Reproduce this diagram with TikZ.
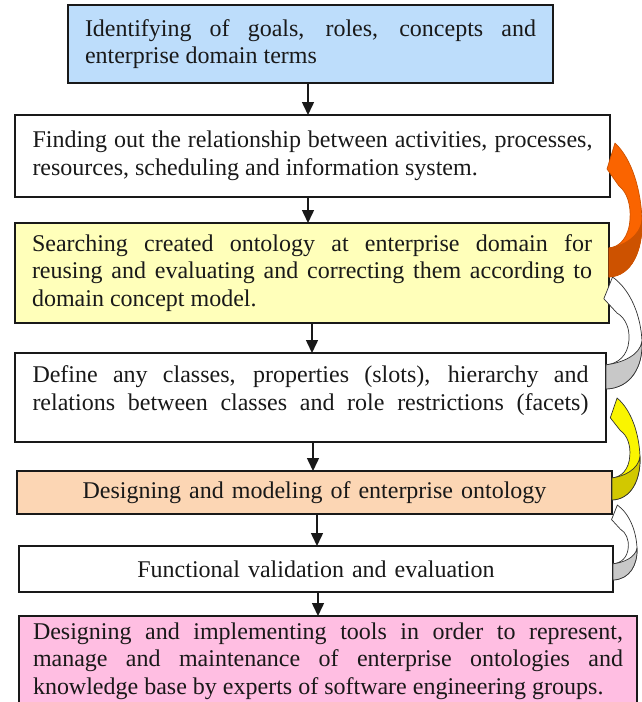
\documentclass[tikz,border=0pt]{standalone}
\usepackage{fontspec}
\setmainfont{Liberation Serif}
\usetikzlibrary{arrows.meta}
\hyphenpenalty=10000
\exhyphenpenalty=10000
\definecolor{boxblue}{RGB}{189,221,251}
\definecolor{boxyellow}{RGB}{255,255,186}
\definecolor{boxorange}{RGB}{252,214,180}
\definecolor{boxpink}{RGB}{255,190,226}
\definecolor{orlight}{RGB}{250,100,0}
\definecolor{ordark}{RGB}{205,82,0}
\definecolor{yelight}{RGB}{250,245,0}
\definecolor{yedark}{RGB}{210,200,0}
\definecolor{grlight}{RGB}{255,255,255}
\definecolor{grdark}{RGB}{200,200,200}
\definecolor{ink}{RGB}{25,25,25}
% curved return arrow: #1 x of tail, #2 y of tail bottom, #3 width, #4 height,
% #5 light fill, #6 dark fill, #7 outline colour
\newcommand{\bentarrow}[7]{%
  \begin{scope}[shift={(#1,#2)},xscale=#3/33,yscale=#4/134]
    \filldraw[fill=#5,draw=#7,line width=0.7pt,line join=round]
      (0,0) .. controls (23,-1) and (34,-27) .. (33,-57)
      .. controls (32,-87) and (23,-118) .. (6,-134)
      -- (-2,-108) -- (10,-91)
      .. controls (18,-85) and (22,-72) .. (21,-58)
      .. controls (20,-40) and (11,-30) .. (0,-29) -- cycle;
    \filldraw[fill=#6,draw=#7,line width=0.7pt,line join=round]
      (0,0) .. controls (23,-1) and (34,-27) .. (33,-57)
      .. controls (31,-40) and (14,-31) .. (0,-29) -- cycle;
  \end{scope}}
\begin{document}
\begin{tikzpicture}[x=1pt,y=-1pt,
  box/.style={draw=ink,line width=1.4pt,anchor=north west,align=justify,
    font=\fontsize{24}{27.6}\selectfont,text=ink,inner ysep=0pt,outer sep=0pt},
  cbox/.style={box,align=center},
  flow/.style={draw=ink,line width=1.5pt,-{Triangle[width=12pt,length=13pt]}}]
\useasboundingbox (0,0) rectangle (642,702);

% boxes
\node[box,fill=boxblue,text width=451pt,inner xsep=17pt,minimum height=78pt] (b1) at (68,5)
  {Identifying of goals, roles, concepts and enterprise domain terms};
\node[box,fill=white,text width=560pt,inner xsep=17.5pt,minimum height=82pt] (b2) at (15,115)
  {Finding out the relationship between activities, processes, resources, scheduling and information system.};
\node[box,fill=boxyellow,text width=560pt,inner xsep=17pt,minimum height=100pt] (b3) at (15,223)
  {Searching created ontology at enterprise domain for reusing and evaluating and correcting them according to domain concept model.};
\node[box,fill=white,text width=556pt,inner xsep=17.5pt,minimum height=89pt] (b4) at (15,353)
  {\parfillskip=0pt Define any classes, properties (slots), hierarchy and relations between classes and role restrictions (facets)\par\vspace*{14pt}};
\node[cbox,fill=boxorange,text width=560pt,inner xsep=17.5pt,minimum height=43pt] (b5) at (17,471)
  {Designing and modeling of enterprise ontology};
\node[cbox,fill=white,text width=560pt,inner xsep=17pt,minimum height=46pt] (b6) at (19,546)
  {Functional validation and evaluation};
\node[box,fill=boxpink,text width=590pt,inner xsep=14pt,minimum height=90pt] (b7) at (19,616)
  {Designing and implementing tools in order to represent, manage and maintenance of enterprise ontologies and knowledge base by experts of software engineering groups.};

% straight flow arrows
\draw[flow] (b1.south -| 308,0) -- (b2.north -| 308,0);
\draw[flow] (b2.south -| 308,0) -- (b3.north -| 308,0);
\draw[flow] (b3.south -| 312,0) -- (b4.north -| 312,0);
\draw[flow] (b4.south -| 313,0) -- (b5.north -| 313,0);
\draw[flow] (b5.south -| 317,0) -- (b6.north -| 317,0);
\draw[flow] (b6.south -| 318,0) -- (b7.north -| 318,0);

% curved return arrows on the right
\bentarrow{613}{580}{24}{75}{grlight}{grdark}{black!80}
\bentarrow{612}{500}{28}{102}{yelight}{yedark}{black!80}
\bentarrow{606}{389}{36}{112}{grlight}{grdark}{black!80}
\bentarrow{609}{277}{33}{134}{orlight}{ordark}{ordark}
\end{tikzpicture}
\end{document}
